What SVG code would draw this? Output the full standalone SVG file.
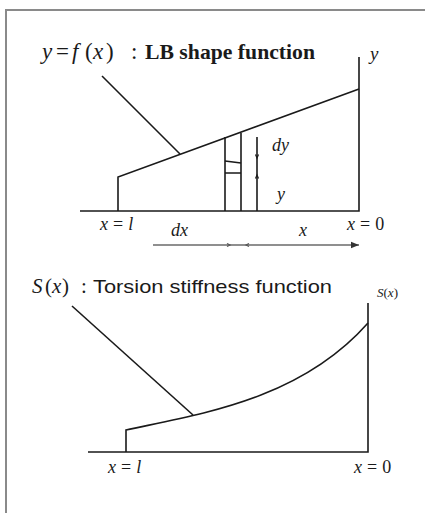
<svg xmlns="http://www.w3.org/2000/svg" width="425" height="513" viewBox="0 0 425 513">
<defs>
<style>
.ln{stroke:#1a1a1a;stroke-width:1.6;fill:none}
.fr{stroke:#8a8a8a;stroke-width:2;fill:none}
.it{font-family:"Liberation Serif",serif;font-style:italic;fill:#1a1a1a}
.rm{font-family:"Liberation Serif",serif;font-style:normal;fill:#1a1a1a}
.ss{font-family:"Liberation Sans",sans-serif;fill:#1a1a1a}
</style>
<marker id="ah" viewBox="0 0 10 10" refX="10" refY="5" markerWidth="5" markerHeight="5" orient="auto"><path d="M0,1 L10,5 L0,9 Z" fill="#333"/></marker>
</defs>
<rect width="425" height="513" fill="#fff"/>
<path class="fr" d="M6,513 V10 H425"/>
<g id="top-diagram">
<text y="59" font-size="23"><tspan class="it" x="42">y</tspan><tspan class="rm" x="56">=</tspan><tspan class="it" x="72">f</tspan><tspan class="rm" x="85">(</tspan><tspan class="it" x="93">x</tspan><tspan class="rm" x="106">)</tspan><tspan class="rm" x="131">:</tspan><tspan class="rm" font-weight="bold" font-size="21" x="145" textLength="170" lengthAdjust="spacingAndGlyphs">LB shape function</tspan></text>
<text class="it" x="370" y="60" font-size="19">y</text>
<g id="connectors-top">
<path class="ln" d="M359,57 V211 H80"/>
<path class="ln" d="M118,211 V177 L359,89"/>
<path class="ln" d="M102,76 L180,154"/>
<path class="ln" d="M225,211 V137"/>
<path class="ln" d="M241,211 V133"/>
<path class="ln" d="M225,161 L241,163 M225,173 H241"/>
<path class="ln" d="M257,211 V137"/>
<path d="M255.5,154.5 L257,158 L258.5,154.5 M255.5,178.5 L257,175 L258.5,178.5" stroke="#1a1a1a" stroke-width="1.2" fill="none"/>
<path d="M153,245 H359" stroke="#6a6a6a" stroke-width="1.6" fill="none" marker-end="url(#ah)"/>
<path d="M227,243.5 L230,245 L227,246.5 M249,243.5 L246,245 L249,246.5" stroke="#555" stroke-width="1.2" fill="none"/>
</g>
<text class="it" x="272" y="151" font-size="18">dy</text>
<text class="it" x="277" y="200" font-size="18">y</text>
<text y="230" font-size="18"><tspan class="it" x="100">x</tspan><tspan class="rm" dx="5">=</tspan><tspan class="it" dx="5">l</tspan></text>
<text y="230" font-size="18"><tspan class="it" x="347">x</tspan><tspan class="rm" dx="5">=</tspan><tspan class="rm" dx="5">0</tspan></text>
<text class="it" x="171" y="236" font-size="18">dx</text>
<text class="it" x="299" y="236" font-size="18">x</text>
</g>
<g id="bottom-diagram">
<text y="293" font-size="21"><tspan class="it" x="32">S</tspan><tspan class="rm" x="45">(</tspan><tspan class="it" x="52">x</tspan><tspan class="rm" x="62">)</tspan><tspan class="rm" x="81">:</tspan><tspan class="ss" font-size="19" x="93" textLength="239" lengthAdjust="spacingAndGlyphs">Torsion stiffness function</tspan></text>
<text x="377" y="297" font-size="13"><tspan class="it">S</tspan><tspan class="rm">(</tspan><tspan class="it">x</tspan><tspan class="rm">)</tspan></text>
<g id="connectors-bottom">
<path class="ln" d="M368,303 V452 H88"/>
<path class="ln" d="M126,452 V430 C200,414 300,400 368,323"/>
<path class="ln" d="M72,306 L193,415"/>
</g>
<text y="473" font-size="18"><tspan class="it" x="108">x</tspan><tspan class="rm" dx="5">=</tspan><tspan class="it" dx="5">l</tspan></text>
<text y="473" font-size="18"><tspan class="it" x="354">x</tspan><tspan class="rm" dx="5">=</tspan><tspan class="rm" dx="5">0</tspan></text>
</g>
</svg>
